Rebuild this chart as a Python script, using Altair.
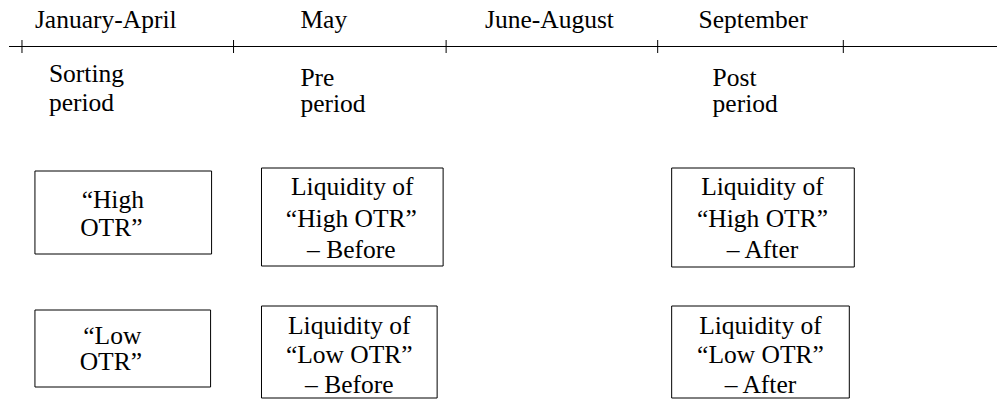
import altair as alt
import pandas as pd

# ---- timeline ----
line_start = [8]
line_end = [998]
line_y = [46.5]
tick_x = [21, 233, 446, 658, 844]
tick_top = [40, 40, 40, 40, 40]
tick_bottom = [53, 53, 53, 53, 53]

# ---- header labels (left aligned) ----
header_text = ["January-April", "May", "June-August", "September"]
header_x = [34, 300, 485, 699]
header_y = [28, 28, 28, 28]

# ---- period labels (left aligned) ----
period_text = ["Sorting", "period", "Pre", "period", "Post", "period"]
period_x = [48, 48, 300, 300, 713, 713]
period_y = [82, 111, 86, 112, 86, 112]

# ---- boxes ----
box_x1 = [34, 261, 34, 261, 672, 672]
box_x2 = [211, 443, 210, 437, 855, 850]
box_y1 = [171, 168, 310, 306, 168, 306]
box_y2 = [254, 266, 387, 398, 267, 398]

# ---- box text (centered) ----
box_text = [
    "\u201cHigh", "OTR\u201d",
    "\u201cLow", "OTR\u201d",
    "Liquidity of", "\u201cHigh OTR\u201d", "\u2013 Before",
    "Liquidity of", "\u201cLow OTR\u201d", "\u2013 Before",
    "Liquidity of", "\u201cHigh OTR\u201d", "\u2013 After",
    "Liquidity of", "\u201cLow OTR\u201d", "\u2013 After",
]
box_text_x = [
    112, 110.5,
    111.5, 110,
    352, 351, 351,
    349, 349, 349,
    763, 763, 763,
    761, 761, 761,
]
box_text_y = [
    208, 236,
    344, 370,
    195, 227, 258,
    334, 363, 393,
    195, 227, 258,
    334, 363, 393,
]

FONT = "Liberation Serif"
FS = 25.5

xs = alt.Scale(domain=[8, 998], nice=False, zero=False)
ys = alt.Scale(domain=[8, 400], nice=False, zero=False, reverse=True)

line_df = pd.DataFrame({"x": line_start, "x2": line_end, "y": line_y})
tick_df = pd.DataFrame({"x": tick_x, "y": tick_top, "y2": tick_bottom})
left_df = pd.DataFrame({
    "x": header_x + period_x,
    "y": header_y + period_y,
    "t": header_text + period_text,
})
box_df = pd.DataFrame({"x": box_x1, "x2": box_x2, "y": box_y1, "y2": box_y2})
btext_df = pd.DataFrame({"x": box_text_x, "y": box_text_y, "t": box_text})

timeline = alt.Chart(line_df).mark_rule(color="black", strokeWidth=1).encode(
    x=alt.X("x:Q", scale=xs, axis=None),
    x2="x2:Q",
    y=alt.Y("y:Q", scale=ys, axis=None),
)
ticks = alt.Chart(tick_df).mark_rule(color="black", strokeWidth=1).encode(
    x=alt.X("x:Q", scale=xs, axis=None),
    y=alt.Y("y:Q", scale=ys, axis=None),
    y2="y2:Q",
)
left_text = alt.Chart(left_df).mark_text(
    font=FONT, fontSize=FS, align="left", baseline="alphabetic", color="black"
).encode(
    x=alt.X("x:Q", scale=xs, axis=None),
    y=alt.Y("y:Q", scale=ys, axis=None),
    text="t:N",
)
boxes = alt.Chart(box_df).mark_rect(
    fill="white", stroke="black", strokeWidth=1
).encode(
    x=alt.X("x:Q", scale=xs, axis=None),
    x2="x2:Q",
    y=alt.Y("y:Q", scale=ys, axis=None),
    y2="y2:Q",
)
box_text_layer = alt.Chart(btext_df).mark_text(
    font=FONT, fontSize=FS, align="center", baseline="alphabetic", color="black"
).encode(
    x=alt.X("x:Q", scale=xs, axis=None),
    y=alt.Y("y:Q", scale=ys, axis=None),
    text="t:N",
)

chart = alt.layer(timeline, ticks, left_text, boxes, box_text_layer).properties(
    width=990,
    height=392,
    padding=0,
    autosize=alt.AutoSizeParams(type="fit", contains="padding"),
    background="white",
).configure_view(stroke=None)

chart.save("out.html", embed_options={"renderer": "svg", "actions": False})
